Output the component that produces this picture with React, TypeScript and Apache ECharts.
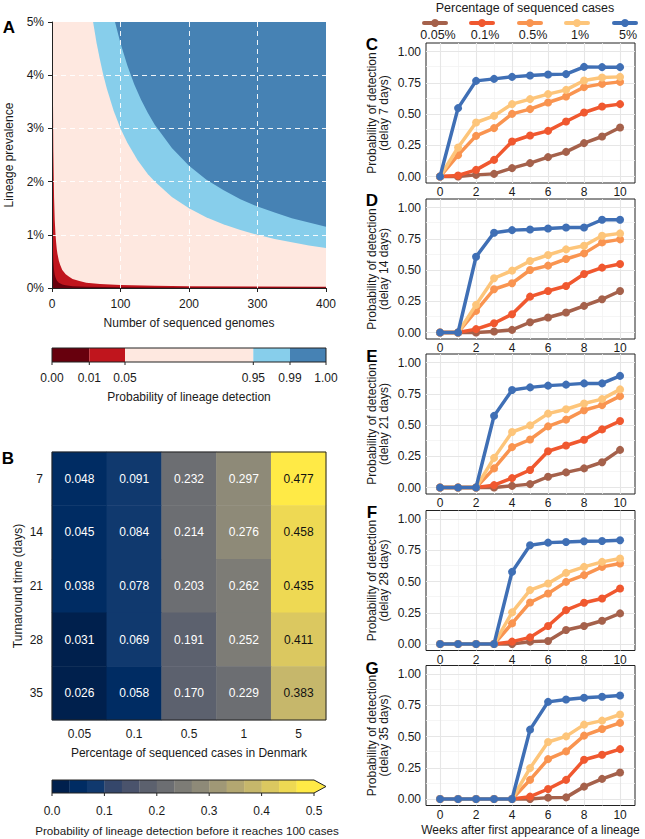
import React, { useEffect, useRef } from 'react';
import * as echarts from 'echarts';

// ---------- Panel A: detection-probability boundaries ----------
const genomesP95 = [60, 65, 70, 75, 80, 90, 100, 110, 125, 140, 150, 175, 200, 225, 250, 275, 300, 325, 350, 375, 400];
const prevalenceP95 = [5.0, 4.61, 4.29, 4.0, 3.75, 3.33, 3.0, 2.73, 2.4, 2.14, 2.0, 1.71, 1.5, 1.33, 1.2, 1.09, 1.0, 0.92, 0.86, 0.8, 0.75];
const genomesP99 = [92, 100, 110, 120, 130, 140, 150, 175, 200, 225, 250, 275, 300, 325, 350, 375, 400];
const prevalenceP99 = [5.0, 4.6, 4.18, 3.83, 3.54, 3.29, 3.07, 2.63, 2.3, 2.04, 1.84, 1.67, 1.53, 1.42, 1.31, 1.23, 1.15];
const genomesP05 = [0, 1, 1.5, 2, 3, 4, 5, 6, 7, 8, 10, 12, 15, 20, 25, 30, 40, 50, 70, 100, 150, 200, 300, 400];
const prevalenceP05 = [5.0, 5.0, 3.4, 2.56, 1.71, 1.28, 1.03, 0.86, 0.73, 0.64, 0.51, 0.43, 0.34, 0.26, 0.21, 0.17, 0.13, 0.1, 0.075, 0.055, 0.04, 0.035, 0.03, 0.025];
const genomesP01 = [0, 0.5, 1, 1.5, 2, 3, 4, 5, 7, 10, 15, 20, 30, 50, 100, 200, 400];
const prevalenceP01 = [5.0, 2.0, 1.0, 0.67, 0.5, 0.34, 0.25, 0.2, 0.14, 0.1, 0.067, 0.05, 0.035, 0.025, 0.015, 0.01, 0.008];
const detectBreakLabels = ['0.00', '0.01', '0.05', '0.95', '0.99', '1.00'];
const detectColors = ['#67000d', '#c0151d', '#fee8e0', '#87ceeb', '#4682b4'];
const aXTicks = [0, 100, 200, 300, 400];
const aYTicks = [1, 2, 3, 4];

// ---------- Panel B: heatmap ----------
const sequencedPct = ['0.05', '0.1', '0.5', '1', '5'];
const turnaroundDays = ['7', '14', '21', '28', '35'];
const detectBefore100 = [
  [0.048, 0.091, 0.232, 0.297, 0.477],
  [0.045, 0.084, 0.214, 0.276, 0.458],
  [0.038, 0.078, 0.203, 0.262, 0.435],
  [0.031, 0.069, 0.191, 0.252, 0.411],
  [0.026, 0.058, 0.170, 0.229, 0.383],
];
const bTickLabels = ['0.0', '0.1', '0.2', '0.3', '0.4', '0.5'];
const CIVIDIS_KEYS = ['#00204D', '#00336F', '#39486B', '#575C6D', '#707173', '#8A8779', '#A69D75', '#C4B56C', '#E4CF5B', '#FFEA46'];

// ---------- Panels C-G ----------
const weeks = [0, 1, 2, 3, 4, 5, 6, 7, 8, 9, 10];
const seqLevels = ['0.05%', '0.1%', '0.5%', '1%', '5%'];
const seqColors = ['#a5614b', '#f0582f', '#f99450', '#fdc57a', '#3f6fb5'];
const delays = [7, 14, 21, 28, 35];
const delay7 = [
  [0, 0, 0.013, 0.021, 0.067, 0.107, 0.155, 0.197, 0.267, 0.32, 0.392],
  [0, 0.008, 0.053, 0.133, 0.28, 0.328, 0.365, 0.44, 0.512, 0.56, 0.579],
  [0, 0.171, 0.325, 0.387, 0.501, 0.539, 0.592, 0.64, 0.715, 0.741, 0.757],
  [0, 0.232, 0.432, 0.485, 0.579, 0.619, 0.659, 0.693, 0.768, 0.792, 0.797],
  [0, 0.547, 0.765, 0.781, 0.797, 0.808, 0.816, 0.819, 0.877, 0.875, 0.875],
];
const delay14 = [
  [0, 0, 0, 0.008, 0.021, 0.082, 0.12, 0.16, 0.213, 0.266, 0.332],
  [0, 0, 0.027, 0.074, 0.146, 0.287, 0.332, 0.372, 0.468, 0.519, 0.548],
  [0, 0, 0.173, 0.346, 0.394, 0.5, 0.535, 0.588, 0.633, 0.721, 0.745],
  [0, 0, 0.221, 0.434, 0.495, 0.572, 0.62, 0.665, 0.694, 0.774, 0.793],
  [0, 0, 0.606, 0.798, 0.819, 0.824, 0.832, 0.84, 0.84, 0.902, 0.902],
];
const delay21 = [
  [0, 0, 0, 0, 0.013, 0.027, 0.086, 0.121, 0.153, 0.202, 0.301],
  [0, 0, 0, 0.019, 0.075, 0.14, 0.29, 0.336, 0.382, 0.465, 0.532],
  [0, 0, 0, 0.153, 0.323, 0.384, 0.489, 0.543, 0.618, 0.659, 0.731],
  [0, 0, 0, 0.237, 0.444, 0.497, 0.591, 0.626, 0.672, 0.707, 0.785],
  [0, 0, 0, 0.573, 0.78, 0.801, 0.815, 0.823, 0.833, 0.833, 0.893],
];
const delay28 = [
  [0, 0, 0, 0, 0, 0.019, 0.024, 0.112, 0.144, 0.186, 0.245],
  [0, 0, 0, 0, 0.019, 0.053, 0.144, 0.271, 0.33, 0.364, 0.444],
  [0, 0, 0, 0, 0.165, 0.332, 0.404, 0.497, 0.551, 0.617, 0.644],
  [0, 0, 0, 0, 0.253, 0.431, 0.484, 0.569, 0.617, 0.657, 0.684],
  [0, 0, 0, 0, 0.577, 0.79, 0.811, 0.816, 0.822, 0.824, 0.83],
];
const delay35 = [
  [0, 0, 0, 0, 0, 0, 0.011, 0.013, 0.099, 0.161, 0.212],
  [0, 0, 0, 0, 0, 0.019, 0.08, 0.153, 0.314, 0.354, 0.399],
  [0, 0, 0, 0, 0, 0.153, 0.319, 0.381, 0.507, 0.56, 0.609],
  [0, 0, 0, 0, 0, 0.247, 0.456, 0.501, 0.595, 0.627, 0.676],
  [0, 0, 0, 0, 0, 0.555, 0.777, 0.796, 0.81, 0.818, 0.828],
];
const delayPanels = [delay7, delay14, delay21, delay28, delay35];
const lineXMajor = [0, 2, 4, 6, 8, 10];
const lineXMinor = [1, 3, 5, 7, 9];
const lineYMajor = [0, 0.25, 0.5, 0.75, 1];
const lineYMinor = [0.125, 0.375, 0.625, 0.875];

// ---------- helpers ----------
const FONT = 'Liberation Sans, Arial, Helvetica, sans-serif';
const TXT = '#1a1a1a';

function hexToRgb(h: string) {
  const v = parseInt(h.slice(1), 16);
  return [(v >> 16) & 255, (v >> 8) & 255, v & 255];
}
function cividis(t: number) {
  const n = CIVIDIS_KEYS.length - 1;
  const p = Math.max(0, Math.min(1, t)) * n;
  const i = Math.min(Math.floor(p), n - 1);
  const f = p - i;
  const a = hexToRgb(CIVIDIS_KEYS[i]);
  const b = hexToRgb(CIVIDIS_KEYS[i + 1]);
  const c = a.map((x, k) => Math.round(x + (b[k] - x) * f));
  return `rgb(${c[0]},${c[1]},${c[2]})`;
}
const N_BINS = 15;
const binColors = Array.from({ length: N_BINS }, (_, i) => cividis(i / (N_BINS - 1)));

const zip = (xs: number[], ys: number[]) => xs.map((x, i) => [x, ys[i]]);

export default function App() {
  const ref = useRef<HTMLDivElement>(null);
  useEffect(() => {
    if (!ref.current) return;
    const chart = echarts.init(ref.current, null, { renderer: 'svg' });

    // layout
    const A = { left: 52, top: 22, width: 274, height: 266 };
    const B = { left: 52, top: 452, width: 274, height: 268 };
    const L = { left: 426, width: 209, height: 140 };
    const lineTops = [43, 199, 354, 510.5, 665.5];

    const grids: any[] = [
      { left: A.left, top: A.top, width: A.width, height: A.height, show: true, backgroundColor: detectColors[2], borderWidth: 0 },
      { left: B.left, top: B.top, width: B.width, height: B.height, show: false },
      ...lineTops.map((t) => ({ left: L.left, top: t, width: L.width, height: L.height, show: true, backgroundColor: '#fff', borderColor: '#222', borderWidth: 1 })),
    ];

    const baseLabel = { fontFamily: FONT, fontSize: 12, color: TXT };
    const xAxes: any[] = [
      {
        gridIndex: 0, type: 'value', min: 0, max: 400, interval: 100, z: 10,
        axisLine: { show: true, onZero: false, lineStyle: { color: '#222', width: 1 } },
        axisTick: { show: true, length: 4, lineStyle: { color: '#222' } },
        axisLabel: { ...baseLabel, margin: 10 },
        splitLine: { show: false },
        name: 'Number of sequenced genomes', nameLocation: 'middle', nameGap: 29,
        nameTextStyle: { fontFamily: FONT, fontSize: 12, color: TXT },
      },
      {
        gridIndex: 1, type: 'category', data: sequencedPct,
        axisLine: { show: false }, axisTick: { show: false },
        axisLabel: { ...baseLabel, margin: 8 },
        name: 'Percentage of sequenced cases in Denmark', nameLocation: 'middle', nameGap: 27,
        nameTextStyle: { fontFamily: FONT, fontSize: 12, color: TXT },
      },
      ...lineTops.map((_, k) => ({
        gridIndex: k + 2, type: 'value', min: -0.78, max: 10.83,
        axisLine: { show: false },
        axisTick: { show: true, length: 3, lineStyle: { color: '#333' }, customValues: lineXMajor },
        axisLabel: { ...baseLabel, margin: 3, customValues: lineXMajor },
        splitLine: { show: false },
        ...(k === 4 ? {
          name: 'Weeks after first appearance of a lineage', nameLocation: 'middle', nameGap: 18,
          nameTextStyle: { fontFamily: FONT, fontSize: 12, color: TXT },
        } : {}),
      })),
    ];
    const yAxes: any[] = [
      {
        gridIndex: 0, type: 'value', min: 0, max: 5, interval: 1, z: 10,
        axisLine: { show: true, onZero: false, lineStyle: { color: '#222', width: 1 } },
        axisTick: { show: true, length: 4, lineStyle: { color: '#222' } },
        axisLabel: { ...baseLabel, margin: 8, formatter: '{value}%' },
        splitLine: { show: false },
        name: 'Lineage prevalence', nameLocation: 'middle', nameGap: 37,
        nameTextStyle: { fontFamily: FONT, fontSize: 12, color: TXT },
      },
      {
        gridIndex: 1, type: 'category', data: turnaroundDays, inverse: true,
        axisLine: { show: false }, axisTick: { show: false },
        axisLabel: { ...baseLabel, margin: 9 },
        name: 'Turnaround time (days)', nameLocation: 'middle', nameGap: 28,
        nameTextStyle: { fontFamily: FONT, fontSize: 12, color: TXT },
      },
      ...lineTops.map((_, k) => ({
        gridIndex: k + 2, type: 'value', min: -0.052, max: 1.068,
        axisLine: { show: false },
        axisTick: { show: true, length: 3, lineStyle: { color: '#333' }, customValues: lineYMajor },
        axisLabel: { ...baseLabel, margin: 5, customValues: lineYMajor, formatter: (v: number) => v.toFixed(2) },
        splitLine: { show: false },
        name: `Probability of detection\n(delay ${delays[k]} days)`, nameLocation: 'middle', nameGap: 36,
        nameTextStyle: { fontFamily: FONT, fontSize: 12, color: TXT, lineHeight: 12 },
      })),
    ];

    const series: any[] = [];
    // Panel A areas
    const areaCommon = { type: 'line', xAxisIndex: 0, yAxisIndex: 0, symbol: 'none', smooth: false, lineStyle: { width: 0 }, silent: true };
    series.push({ ...areaCommon, data: zip(genomesP05, prevalenceP05), areaStyle: { origin: 'start', color: detectColors[1], opacity: 1 }, z: 2 });
    series.push({ ...areaCommon, data: zip(genomesP01, prevalenceP01), areaStyle: { origin: 'start', color: detectColors[0], opacity: 1 }, z: 3 });
    series.push({ ...areaCommon, data: zip(genomesP95, prevalenceP95), areaStyle: { origin: 'end', color: detectColors[3], opacity: 1 }, z: 2 });
    series.push({ ...areaCommon, data: zip(genomesP99, prevalenceP99), areaStyle: { origin: 'end', color: detectColors[4], opacity: 1 }, z: 3 });
    // Panel A dashed white grid on top
    series.push({
      type: 'line', xAxisIndex: 0, yAxisIndex: 0, data: [[0, 0]], symbol: 'none', lineStyle: { opacity: 0 }, z: 6, silent: true,
      markLine: {
        z: 6, silent: true, symbol: ['none', 'none'], label: { show: false },
        lineStyle: { color: '#ffffff', type: [5, 4], width: 1, opacity: 0.9 },
        data: [...aXTicks.slice(1, 4).map((v) => ({ xAxis: v })), ...aYTicks.map((v) => ({ yAxis: v }))],
      },
    });

    // Panel B heatmap
    const heatData: any[] = [];
    detectBefore100.forEach((row, r) => row.forEach((v, c) => {
      heatData.push({ value: [c, r, v], label: { color: v > 0.35 ? '#111' : '#ffffff' } });
    }));
    const heatIndex = series.length;
    series.push({
      type: 'heatmap', xAxisIndex: 1, yAxisIndex: 1, data: heatData,
      label: { show: true, fontFamily: FONT, fontSize: 12, formatter: (p: any) => p.value[2].toFixed(3) },
      itemStyle: { borderWidth: 0 },
    });

    // Panels C-G
    delayPanels.forEach((panel, k) => {
      const g = k + 2;
      series.push({
        type: 'line', xAxisIndex: g, yAxisIndex: g, data: [[0, 0]], symbol: 'none', lineStyle: { opacity: 0 }, z: 1, silent: true,
        markLine: {
          z: 1, silent: true, symbol: ['none', 'none'], label: { show: false },
          data: [
            ...lineXMinor.map((v) => ({ xAxis: v, lineStyle: { color: '#f2f2f2', width: 0.8, type: 'solid' } })),
            ...lineYMinor.map((v) => ({ yAxis: v, lineStyle: { color: '#f2f2f2', width: 0.8, type: 'solid' } })),
            ...lineXMajor.map((v) => ({ xAxis: v, lineStyle: { color: '#e6e6e6', width: 1.1, type: 'solid' } })),
            ...lineYMajor.map((v) => ({ yAxis: v, lineStyle: { color: '#e6e6e6', width: 1.1, type: 'solid' } })),
          ],
        },
      });
      panel.forEach((vals, s) => {
        series.push({
          type: 'line', xAxisIndex: g, yAxisIndex: g, name: seqLevels[s],
          data: zip(weeks, vals), symbol: 'circle', symbolSize: 8, showSymbol: true,
          lineStyle: { color: seqColors[s], width: 3.5 }, itemStyle: { color: seqColors[s] },
          z: 3 + s, silent: true,
        });
      });
    });

    // ---------- graphics ----------
    const graphics: any[] = [];
    const letter = (t: string, x: number, y: number) => ({
      type: 'text', x, y, z: 100, style: { text: t, fontFamily: FONT, fontWeight: 'bold', fontSize: 17, fill: '#000', textAlign: 'center', textVerticalAlign: 'middle' },
    });
    graphics.push(letter('A', 9, 27), letter('B', 8, 458));
    ['C', 'D', 'E', 'F', 'G'].forEach((t, i) => graphics.push(letter(t, 372, 44 + 156.2 * i)));
    const txt = (t: string, x: number, y: number, size = 12, align = 'center') => ({
      type: 'text', x, y, z: 100, style: { text: t, fontFamily: FONT, fontSize: size, fill: TXT, textAlign: align, textVerticalAlign: 'middle' },
    });

    // Colorbar A
    const cbAX = [52, 89.3, 125, 253.3, 290, 326];
    const cbAY = 348, cbAH = 14;
    detectColors.forEach((c, i) => graphics.push({
      type: 'rect', z: 100, shape: { x: cbAX[i], y: cbAY, width: cbAX[i + 1] - cbAX[i], height: cbAH }, style: { fill: c },
    }));
    graphics.push({ type: 'rect', z: 101, shape: { x: cbAX[0], y: cbAY, width: cbAX[5] - cbAX[0], height: cbAH }, style: { fill: 'none', stroke: '#222', lineWidth: 1 } });
    detectBreakLabels.forEach((lab, i) => {
      graphics.push({ type: 'line', z: 101, shape: { x1: cbAX[i], y1: cbAY + cbAH, x2: cbAX[i], y2: cbAY + cbAH + 3 }, style: { stroke: '#222', lineWidth: 1 } });
      graphics.push(txt(lab, cbAX[i], 378));
    });
    graphics.push(txt('Probability of lineage detection', 189, 397));

    // Colorbar B
    const cbBX0 = 52, cbBX1 = 314, cbBTip = 326, cbBY = 780, cbBH = 13;
    const segW = (cbBX1 - cbBX0) / N_BINS;
    binColors.forEach((c, i) => graphics.push({
      type: 'rect', z: 100, shape: { x: cbBX0 + i * segW, y: cbBY, width: segW + 0.3, height: cbBH }, style: { fill: c },
    }));
    graphics.push({ type: 'polygon', z: 100, shape: { points: [[cbBX1, cbBY], [cbBTip, cbBY + cbBH / 2], [cbBX1, cbBY + cbBH]] }, style: { fill: binColors[N_BINS - 1] } });
    graphics.push({
      type: 'polygon', z: 101,
      shape: { points: [[cbBX0, cbBY], [cbBX1, cbBY], [cbBTip, cbBY + cbBH / 2], [cbBX1, cbBY + cbBH], [cbBX0, cbBY + cbBH]] },
      style: { fill: 'none', stroke: '#222', lineWidth: 1 },
    });
    bTickLabels.forEach((lab, i) => {
      const x = cbBX0 + (i / (bTickLabels.length - 1)) * (cbBX1 - cbBX0);
      graphics.push({ type: 'line', z: 101, shape: { x1: x, y1: cbBY + cbBH, x2: x, y2: cbBY + cbBH + 3 }, style: { stroke: '#222', lineWidth: 1 } });
      graphics.push(txt(lab, x, 811));
    });
    graphics.push(txt('Probability of lineage detection before it reaches 100 cases', 187, 830, 11.6));

    // Heatmap frame
    graphics.push({ type: 'rect', z: 100, shape: { x: B.left, y: B.top, width: B.width, height: B.height }, style: { fill: 'none', stroke: '#222', lineWidth: 1 } });

    // Legend for C-G
    graphics.push(txt('Percentage of sequenced cases', 525, 8, 12.5));
    const legX = [435, 482, 530, 577, 625];
    seqLevels.forEach((lab, i) => {
      graphics.push({ type: 'line', z: 100, shape: { x1: legX[i] - 11, y1: 23, x2: legX[i] + 11, y2: 23 }, style: { stroke: seqColors[i], lineWidth: 4, lineCap: 'round' } });
      graphics.push({ type: 'circle', z: 101, shape: { cx: legX[i], cy: 23, r: 4 }, style: { fill: seqColors[i] } });
      graphics.push(txt(lab, legX[i] + 3, 35, 12.5));
    });

    chart.setOption({
      animation: false,
      textStyle: { fontFamily: FONT },
      grid: grids,
      xAxis: xAxes,
      yAxis: yAxes,
      visualMap: {
        show: false, type: 'piecewise', seriesIndex: heatIndex, dimension: 2,
        pieces: [
          ...binColors.map((c, i) => ({ gte: (i * 0.5) / N_BINS, lt: ((i + 1) * 0.5) / N_BINS, color: c })),
          { gte: 0.5, color: binColors[N_BINS - 1] },
        ],
      },
      series,
      graphic: graphics,
    });
    return () => chart.dispose();
  }, []);
  return <div ref={ref} style={{ position: 'absolute', left: 0, top: 0, width: 645, height: 839, background: '#fff' }} />;
}
